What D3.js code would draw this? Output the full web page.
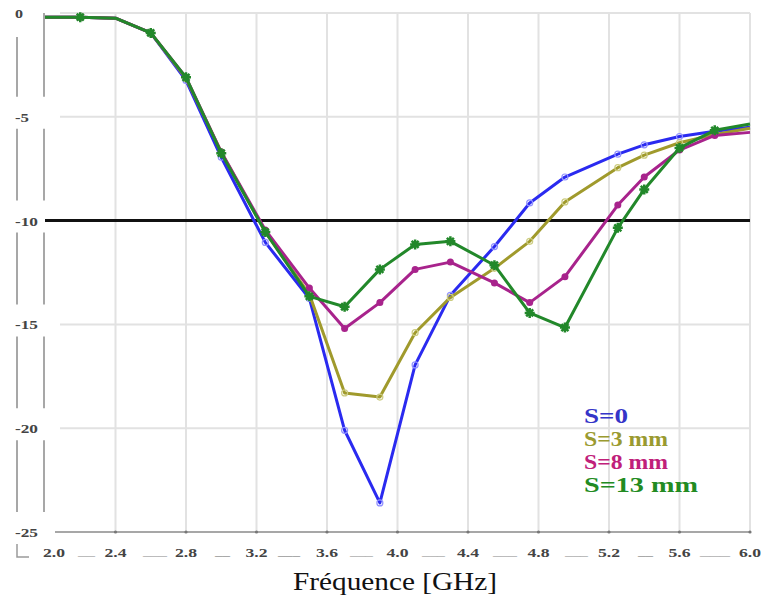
<!DOCTYPE html>
<html><head><meta charset="utf-8">
<script src="https://cdn.jsdelivr.net/npm/d3@7"></script>
<style>body{margin:0;background:#fff}svg{display:block}</style>
</head><body>
<svg id="c" width="762" height="596"></svg>
<script>
const freq = [2.0, 2.2, 2.4, 2.6, 2.8, 3.0, 3.25, 3.5, 3.7, 3.9, 4.1, 4.3, 4.55, 4.75, 4.95, 5.25, 5.4, 5.6, 5.8, 6.0];
const s0   = [-0.2, -0.2, -0.25, -0.96, -3.25, -6.95, -11.05, -13.75, -20.1, -23.6, -16.95, -13.6, -11.25, -9.15, -7.9, -6.8, -6.35, -5.95, -5.7, -5.5];
const s3   = [-0.2, -0.2, -0.25, -0.96, -3.15, -6.7, -10.55, -13.55, -18.3, -18.5, -15.4, -13.7, -12.3, -11.0, -9.1, -7.45, -6.85, -6.25, -5.85, -5.55];
const s8   = [-0.2, -0.2, -0.25, -0.96, -3.1, -6.7, -10.45, -13.25, -15.2, -13.95, -12.35, -12.0, -13.0, -13.95, -12.7, -9.25, -7.9, -6.6, -5.9, -5.75];
const s13  = [-0.2, -0.2, -0.25, -0.96, -3.1, -6.75, -10.55, -13.65, -14.15, -12.35, -11.15, -11.0, -12.15, -14.45, -15.15, -10.35, -8.5, -6.5, -5.65, -5.35];
const seriesNames = ["S=0", "S=3 mm", "S=8 mm", "S=13 mm"];
const seriesColors = ["#2a2af0", "#a09a2c", "#a8238c", "#22882a"];
const legendColors = ["#3535c8", "#9a9a30", "#c0207a", "#228b22"];
const xTicks = [2.0, 2.4, 2.8, 3.2, 3.6, 4.0, 4.4, 4.8, 5.2, 5.6, 6.0];
const yTicks = [0, -5, -10, -15, -20, -25];
const threshold = -10;
const xTitle = "Fréquence [GHz]";

const svg = d3.select("#c");
const x = d3.scaleLinear().domain([2.0, 6.0]).range([45, 750]);
const y = d3.scaleLinear().domain([0, -25]).range([13, 532]);

// grid
svg.append("g").selectAll("line").data(xTicks.slice(1)).join("line")
  .attr("x1", d => x(d)).attr("x2", d => x(d)).attr("y1", y(0)).attr("y2", y(-25))
  .attr("stroke", "#e2e2e2").attr("stroke-width", 2);
svg.append("g").selectAll("line").data(yTicks.slice(0, -1)).join("line")
  .attr("x1", 60).attr("x2", x(6.0)).attr("y1", d => y(d)).attr("y2", d => y(d))
  .attr("stroke", "#e2e2e2").attr("stroke-width", 2);

// bottom axis line with dots
svg.append("line").attr("x1", 55).attr("x2", x(6.0)).attr("y1", y(-25)).attr("y2", y(-25))
  .attr("stroke", "#8a8a8a").attr("stroke-width", 1.5);
svg.append("g").selectAll("circle").data(xTicks.slice(1)).join("circle")
  .attr("cx", d => x(d)).attr("cy", y(-25)).attr("r", 1.6).attr("fill", "#777");

// left double axis lines with gaps around labels
const segs = [];
for (let i = 0; i < yTicks.length - 1; i++) {
  segs.push([y(yTicks[i]) + 12, y(yTicks[i + 1]) - 20]);
}
[17, 44].forEach(px => {
  svg.append("g").selectAll("line").data(segs).join("line")
    .attr("x1", px).attr("x2", px)
    .attr("y1", (d, i) => (i === 0 && px === 44) ? y(0) : (i === 0 ? y(0) + 24 : d[0]))
    .attr("y2", d => d[1])
    .attr("stroke", "#8a8a8a").attr("stroke-width", 1.5);
});
// corner L
svg.append("path").attr("d", "M17,544 V557 H29").attr("fill", "none")
  .attr("stroke", "#9a9a9a").attr("stroke-width", 1.5);

// y labels
svg.append("g").selectAll("text").data(yTicks).join("text")
  .attr("x", 15).attr("y", d => y(d) + 5)
  .attr("font-family", "Liberation Serif, Times New Roman, serif")
  .attr("font-weight", "bold").attr("font-size", 12).attr("fill", "#444")
  .attr("textLength", d => d === 0 ? 8 : (String(d).length === 2 ? 14 : 23))
  .attr("lengthAdjust", "spacingAndGlyphs")
  .text(d => String(d));

// x labels
svg.append("g").selectAll("text").data(xTicks).join("text")
  .attr("x", d => d === 2.0 ? 54 : x(d)).attr("y", 557)
  .attr("text-anchor", "middle")
  .attr("font-family", "Liberation Serif, Times New Roman, serif")
  .attr("font-weight", "bold").attr("font-size", 12).attr("fill", "#444")
  .attr("textLength", 22).attr("lengthAdjust", "spacingAndGlyphs")
  .text(d => d.toFixed(1));
// underscore fillers between labels
const fillers = [[78, 95], [143, 167], [215, 230], [278, 300], [350, 373], [422, 445], [493, 517], [565, 588], [638, 653], [700, 730]];
svg.append("g").selectAll("text").data(fillers).join("text")
  .attr("x", d => d[0]).attr("y", 555)
  .attr("font-family", "Liberation Serif, Times New Roman, serif")
  .attr("font-size", 12).attr("fill", "#888")
  .attr("textLength", d => d[1] - d[0]).attr("lengthAdjust", "spacingAndGlyphs")
  .text(d => d[1] - d[0] > 20 ? "___" : "__");

// threshold
svg.append("line").attr("x1", x(2.0)).attr("x2", x(6.0)).attr("y1", y(threshold)).attr("y2", y(threshold))
  .attr("stroke", "#111").attr("stroke-width", 3);

// series
const allSeries = [s0, s3, s8, s13];
const line = d3.line().x((d, i) => x(freq[i])).y(d => y(d));
allSeries.forEach((vals, k) => {
  const g = svg.append("g");
  g.append("path").datum(vals).attr("d", line).attr("fill", "none")
    .attr("stroke", seriesColors[k]).attr("stroke-width", 3).attr("stroke-linejoin", "round");
  const pts = vals.map((v, i) => ({f: freq[i], v, i})).filter(p => p.i !== 0 && p.i !== 2 && p.i !== vals.length - 1);
  if (k === 0 || k === 1) {
    g.selectAll("circle").data(pts).join("circle")
      .attr("cx", p => x(p.f)).attr("cy", p => y(p.v)).attr("r", 3)
      .attr("fill", "none").attr("stroke", k === 0 ? "#9090ff" : "#cccc80").attr("stroke-width", 1.2);
  } else if (k === 2) {
    g.selectAll("circle").data(pts).join("circle")
      .attr("cx", p => x(p.f)).attr("cy", p => y(p.v)).attr("r", 3.5)
      .attr("fill", seriesColors[k]);
  } else {
    g.selectAll("path.m").data(pts).join("path").attr("class", "m")
      .attr("transform", p => `translate(${x(p.f)},${y(p.v)})`)
      .attr("d", "M-5,0H5M0,-5V5M-3.5,-3.5L3.5,3.5M-3.5,3.5L3.5,-3.5")
      .attr("stroke", seriesColors[k]).attr("stroke-width", 2.5);
  }
});

// legend
const legW = [44, 84, 84, 114];
svg.append("g").selectAll("text").data(seriesNames).join("text")
  .attr("x", 584).attr("y", (d, i) => 423 + i * 23)
  .attr("font-family", "Liberation Serif, Times New Roman, serif")
  .attr("font-weight", "bold").attr("font-size", 21)
  .attr("fill", (d, i) => legendColors[i])
  .attr("textLength", (d, i) => legW[i]).attr("lengthAdjust", "spacingAndGlyphs")
  .text(d => d);

// x title
svg.append("text").attr("x", 293).attr("y", 590)
  .attr("font-family", "Liberation Serif, Times New Roman, serif")
  .attr("font-size", 25).attr("fill", "#111")
  .attr("textLength", 204).attr("lengthAdjust", "spacingAndGlyphs")
  .text(xTitle);
</script>
</body></html>
